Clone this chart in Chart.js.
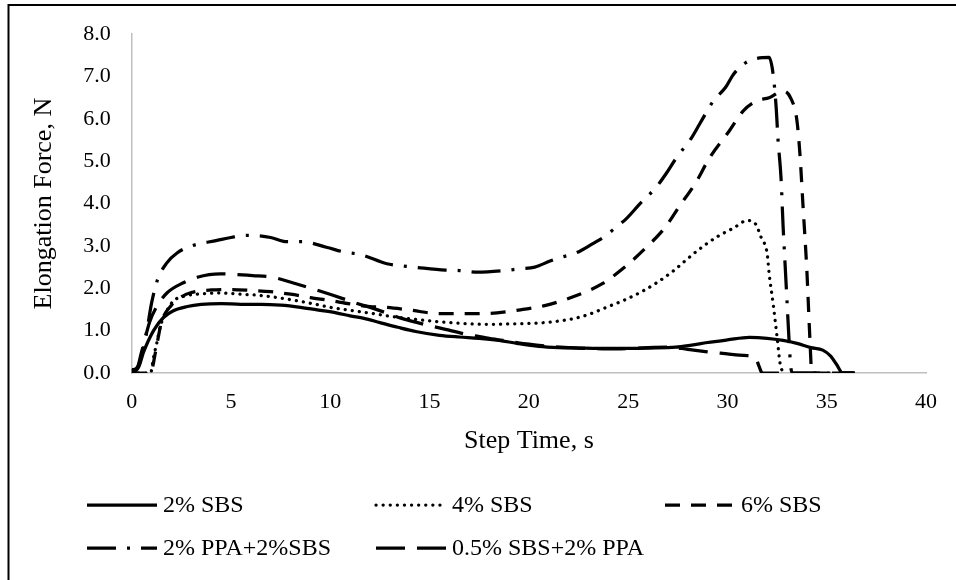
<!DOCTYPE html>
<html>
<head>
<meta charset="utf-8">
<script src="https://cdn.jsdelivr.net/npm/chart.js@4/dist/chart.umd.min.js"></script>
<style>
  html, body { margin: 0; padding: 0; background: #fff; overflow: hidden; }
  #wrap { position: relative; width: 956px; height: 580px; }
</style>
</head>
<body>
<div id="wrap"><canvas id="chart" width="956" height="580"></canvas></div>
<script>
// Elongation force vs. step time for five binder blends
const seriesLabels = ['2% SBS', '4% SBS', '6% SBS', '2% PPA+2%SBS', '0.5% SBS+2% PPA'];

const time2SBS  = [0, 0.3, 0.6, 1.1, 1.6, 2.1, 2.8, 3.5, 4.5, 5.5, 6.5, 7.5, 8.5, 9.5, 10.3, 11, 11.7, 12.5, 13.4, 14.3, 15.5, 16.5, 17.5, 18.5, 19.4, 20.5, 21.5, 22.5, 23.5, 24.8, 26, 27.4, 28.2, 29, 30, 31.1, 32, 32.8, 33.5, 34.2, 34.8, 35.2, 35.5, 35.8, 36.4];
const force2SBS = [0.08, 0.1, 0.5, 1.0, 1.31, 1.47, 1.57, 1.62, 1.64, 1.62, 1.62, 1.6, 1.55, 1.48, 1.42, 1.35, 1.29, 1.19, 1.08, 0.98, 0.89, 0.85, 0.82, 0.77, 0.7, 0.63, 0.6, 0.59, 0.58, 0.58, 0.59, 0.61, 0.66, 0.72, 0.78, 0.84, 0.82, 0.77, 0.7, 0.6, 0.54, 0.4, 0.2, 0, 0];

const time4SBS  = [0, 0.95, 1.1, 1.27, 1.43, 1.77, 2.1, 2.8, 3.5, 4.5, 5.5, 6.5, 7.5, 8.5, 9.3, 10, 11, 12.2, 13, 14, 15, 16, 17, 18, 19, 20, 20.8, 22.2, 23, 23.9, 24.8, 25.6, 26.5, 27.3, 28, 28.8, 29.6, 30.3, 31, 31.4, 31.7, 32, 32.1, 32.3, 32.5, 32.65, 32.8];
const force4SBS = [0, 0, 0.37, 0.72, 1.08, 1.47, 1.7, 1.83, 1.87, 1.89, 1.86, 1.83, 1.77, 1.69, 1.62, 1.55, 1.48, 1.4, 1.34, 1.28, 1.23, 1.19, 1.16, 1.15, 1.16, 1.17, 1.19, 1.28, 1.38, 1.55, 1.72, 1.9, 2.15, 2.42, 2.7, 3.0, 3.25, 3.42, 3.6, 3.53, 3.2, 2.82, 2.35, 1.64, 0.85, 0.23, 0];

const time6SBS  = [0, 0.95, 1.2, 1.5, 2, 2.5, 3, 4, 5, 6, 7, 8, 9, 10, 11, 12, 12.8, 14.1, 15.5, 16.9, 18.4, 19.7, 20.8, 22.4, 23.7, 24.8, 25.9, 26.85, 27.6, 28.4, 29.1, 30.1, 30.8, 31.5, 32.1, 32.8, 33.2, 33.5, 33.65, 33.8, 34, 34.15, 34.25, 36.4];
const force6SBS = [0, 0, 0.5, 1.2, 1.6, 1.8, 1.9, 1.96, 1.97, 1.95, 1.92, 1.86, 1.78, 1.71, 1.63, 1.57, 1.55, 1.48, 1.4, 1.4, 1.42, 1.5, 1.59, 1.83, 2.11, 2.49, 2.96, 3.43, 3.95, 4.49, 5.08, 5.72, 6.19, 6.43, 6.5, 6.66, 6.48, 5.96, 5.18, 4.0, 2.42, 0.84, 0, 0];

const timePPA2SBS  = [0, 0.3, 0.6, 0.8, 1.0, 1.3, 1.77, 2.3, 3.0, 4.3, 5.0, 5.8, 7.0, 7.8, 8.6, 9.8, 10.75, 11.5, 12.85, 13.6, 14.4, 15.8, 16.5, 17.4, 18.8, 19.5, 20.3, 21.1, 21.6, 22.4, 23.2, 23.9, 24.3, 24.9, 25.6, 26.4, 26.9, 27.4, 28.2, 28.6, 29.3, 29.9, 30.3, 30.9, 31.4, 32.1, 32.3, 32.45, 32.55, 32.7, 32.8, 32.9, 33.0, 33.1, 33.2, 33.3, 36.4];
const forcePPA2SBS = [0.05, 0.15, 0.6, 1.1, 1.65, 2.2, 2.6, 2.84, 3.0, 3.13, 3.2, 3.25, 3.2, 3.1, 3.1, 2.97, 2.85, 2.8, 2.58, 2.53, 2.49, 2.43, 2.42, 2.38, 2.42, 2.46, 2.5, 2.65, 2.73, 2.84, 3.05, 3.25, 3.41, 3.64, 4.0, 4.38, 4.7, 5.06, 5.56, 5.88, 6.43, 6.74, 7.05, 7.32, 7.42, 7.45, 7.06, 6.3, 5.5, 4.6, 3.5, 2.6, 1.7, 0.8, 0.1, 0, 0];

const timeSBSPPA  = [0, 0.2, 0.5, 0.9, 1.3, 1.8, 2.6, 3.3, 4.45, 6.1, 7.1, 8.1, 9.1, 10.1, 11.7, 12.2, 13.6, 14.3, 15.8, 17, 18, 19, 20, 21, 22, 23, 24, 25, 26, 27, 28, 29, 30, 30.6, 31.0, 31.4, 31.6, 31.75, 36.4];
const forceSBSPPA = [0.05, 0.05, 0.5, 1.2, 1.6, 1.9, 2.13, 2.26, 2.34, 2.3, 2.26, 2.13, 1.99, 1.84, 1.59, 1.52, 1.29, 1.2, 1.03, 0.9, 0.82, 0.75, 0.68, 0.63, 0.6, 0.58, 0.57, 0.58, 0.6, 0.61, 0.56, 0.5, 0.45, 0.42, 0.41, 0.37, 0.15, 0, 0];

const xTicks = [0, 5, 10, 15, 20, 25, 30, 35, 40];
const yTicks = [0, 1, 2, 3, 4, 5, 6, 7, 8];

const SERIF = '"Liberation Serif", "Times New Roman", serif';
const LINE_W = 3.25;

function pairs(xs, ys) { return xs.map((x, i) => ({ x: x, y: ys[i] })); }

const lineStyles = [
  { dash: [], cap: 'butt' },
  { dash: [0.1, 7], cap: 'round' },
  { dash: [15, 11], cap: 'butt' },
  { dash: [29, 11, 3, 11], cap: 'butt' },
  { dash: [29, 12], cap: 'butt' }
];

const seriesData = [
  pairs(time2SBS, force2SBS),
  pairs(time4SBS, force4SBS),
  pairs(time6SBS, force6SBS),
  pairs(timePPA2SBS, forcePPA2SBS),
  pairs(timeSBSPPA, forceSBSPPA)
];

const datasets = seriesLabels.map((label, i) => ({
  label: label,
  data: seriesData[i],
  borderColor: '#000',
  backgroundColor: '#000',
  borderWidth: LINE_W,
  borderDash: lineStyles[i].dash,
  borderCapStyle: lineStyles[i].cap,
  borderJoinStyle: 'round',
  pointRadius: 0,
  showLine: true,
  fill: false,
  cubicInterpolationMode: 'monotone'
}));

// Outer frame and the legend laid out in fixed columns below the axis title
const legendSlots = [
  { col: 0, row: 0 }, { col: 1, row: 0 }, { col: 2, row: 0 },
  { col: 0, row: 1 }, { col: 1, row: 1 }
];
const legendCols = [87, 376, 665];
const legendRows = [505, 548];
const sampleLen = 70;

const decorPlugin = {
  id: 'decor',
  beforeDraw(chart) {
    const ctx = chart.ctx;
    ctx.save();
    ctx.fillStyle = '#fff';
    ctx.fillRect(0, 0, chart.width, chart.height);
    ctx.strokeStyle = '#000';
    ctx.lineWidth = 2;
    ctx.strokeRect(8.5, 5, chart.width + 20, chart.height + 20);
    ctx.restore();
  },
  afterDraw(chart) {
    const ctx = chart.ctx;
    ctx.save();
    chart.data.datasets.forEach((ds, i) => {
      const slot = legendSlots[i];
      const x0 = legendCols[slot.col];
      const y0 = legendRows[slot.row];
      ctx.beginPath();
      ctx.setLineDash(ds.borderDash);
      ctx.lineCap = ds.borderCapStyle;
      ctx.lineWidth = LINE_W;
      ctx.strokeStyle = '#000';
      ctx.moveTo(x0, y0);
      ctx.lineTo(x0 + sampleLen, y0);
      ctx.stroke();
      ctx.setLineDash([]);
      ctx.fillStyle = '#000';
      ctx.font = '24px ' + SERIF;
      ctx.textAlign = 'left';
      ctx.textBaseline = 'middle';
      ctx.fillText(ds.label, x0 + sampleLen + 6, y0 + 1);
    });
    ctx.restore();
  }
};

new Chart(document.getElementById('chart'), {
  type: 'scatter',
  data: { datasets: datasets },
  plugins: [decorPlugin],
  options: {
    responsive: false,
    animation: false,
    devicePixelRatio: 1,
    layout: { padding: { left: 8, right: 30, top: 33, bottom: 117 } },
    plugins: { legend: { display: false }, tooltip: { enabled: false } },
    scales: {
      x: {
        type: 'linear',
        min: xTicks[0],
        max: xTicks[xTicks.length - 1],
        afterBuildTicks(scale) { scale.ticks = xTicks.map(v => ({ value: v })); },
        afterFit(scale) { scale.height = 90; },
        grid: { display: false, drawTicks: false },
        border: { display: true, color: '#bfbfbf', width: 1.5 },
        ticks: { color: '#000', padding: 16, maxRotation: 0, font: { family: SERIF, size: 22 } },
        title: { display: true, text: 'Step Time, s', color: '#000', font: { family: SERIF, size: 26 }, padding: { top: 0, bottom: 6 } }
      },
      y: {
        type: 'linear',
        min: yTicks[0],
        max: yTicks[yTicks.length - 1],
        afterBuildTicks(scale) { scale.ticks = yTicks.map(v => ({ value: v })); },
        afterFit(scale) { scale.width = 123.7; },
        grid: { display: false, drawTicks: false },
        border: { display: true, color: '#bfbfbf', width: 1.5 },
        ticks: { color: '#000', padding: 21, font: { family: SERIF, size: 22 }, callback: v => Number(v).toFixed(1) },
        title: { display: true, text: 'Elongation Force, N', color: '#000', font: { family: SERIF, size: 26 }, padding: { top: 21, bottom: 0 } }
      }
    }
  }
});
</script>
</body>
</html>
